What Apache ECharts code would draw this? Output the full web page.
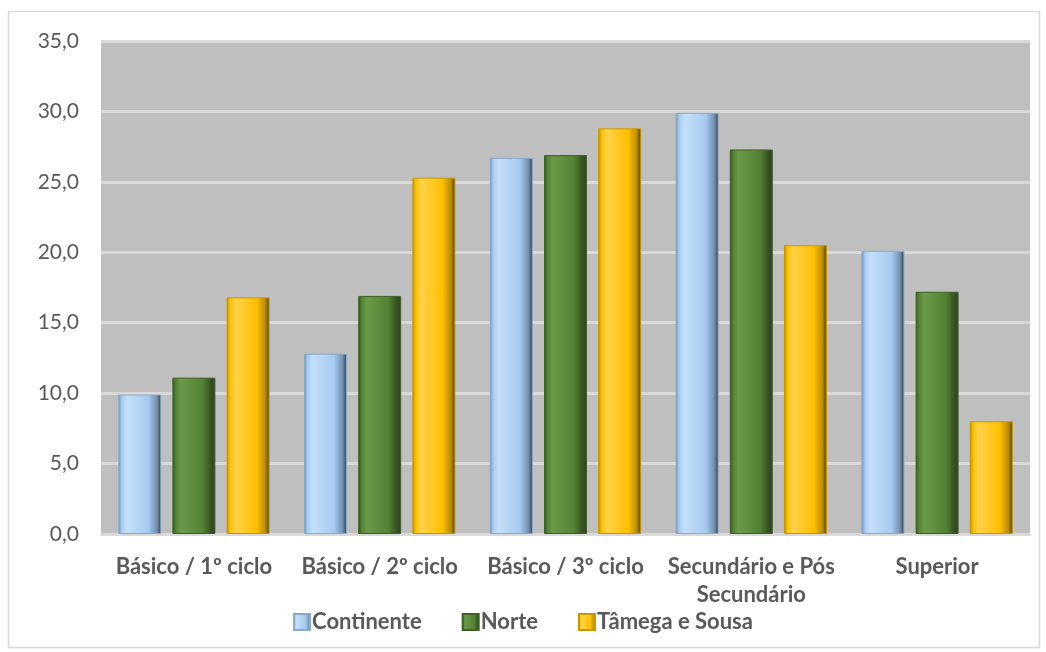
<!DOCTYPE html>
<html>
<head>
<meta charset="utf-8">
<script src="https://cdn.jsdelivr.net/npm/echarts@6/dist/echarts.min.js"></script>
<style>
  html, body { margin: 0; padding: 0; background: #fff; }
  #container { width: 1046px; height: 652px; }
</style>
</head>
<body>
<div id="container"></div>
<script>
var categories = ['Básico / 1º ciclo', 'Básico / 2º ciclo', 'Básico / 3º ciclo', 'Secundário e Pós\nSecundário', 'Superior'];
var continente = [9.9, 12.8, 26.7, 29.9, 20.1];
var norte = [11.1, 16.9, 26.9, 27.3, 17.2];
var tamega = [16.8, 25.3, 28.8, 20.5, 8.0];

function bevel(light, base, dark) {
  return new echarts.graphic.LinearGradient(0, 0, 1, 0, [
    { offset: 0, color: dark },
    { offset: 0.08, color: base },
    { offset: 0.2, color: light },
    { offset: 0.7, color: base },
    { offset: 0.9, color: dark },
    { offset: 1, color: '#3a3a3a' }
  ]);
}

var dom = document.getElementById('container');
var myChart = echarts.init(dom);

var font = 'Lato, "Open Sans", sans-serif';

var option = {
  animation: false,
  textStyle: { fontFamily: font },
  graphic: [{
    type: 'rect',
    shape: { x: 8.5, y: 11.5, width: 1031, height: 636 },
    style: { fill: 'none', stroke: '#D9D9D9', lineWidth: 1.5 },
    silent: true
  }],
  legend: {
    bottom: 14,
    left: 'center',
    itemWidth: 16,
    itemHeight: 16,
    itemGap: 40,
    icon: 'rect',
    textStyle: { fontSize: 22, fontWeight: 'bold', color: '#595959', fontFamily: font, padding: [0, 0, 0, -3] },
    data: ['Continente', 'Norte', 'Tâmega e Sousa']
  },
  grid: {
    left: 101,
    right: 16,
    top: 41,
    bottom: 118,
    show: true,
    backgroundColor: '#BFBFBF',
    borderWidth: 0
  },
  xAxis: {
    type: 'category',
    data: categories,
    axisLine: { lineStyle: { color: '#D9D9D9', width: 2 } },
    axisTick: { show: false },
    axisLabel: {
      interval: 0,
      fontSize: 22,
      fontWeight: 'bold',
      color: '#595959',
      fontFamily: font,
      margin: 19,
      lineHeight: 28
    }
  },
  yAxis: {
    type: 'value',
    min: 0,
    max: 35,
    interval: 5,
    axisLine: { show: false },
    axisTick: { show: false },
    splitLine: { lineStyle: { color: '#D9D9D9', width: 3 } },
    axisLabel: {
      fontSize: 21,
      color: '#595959',
      fontFamily: font,
      margin: 22,
      formatter: function (v) { return v.toFixed(1).replace('.', ','); }
    }
  },
  series: [
    {
      name: 'Continente',
      type: 'bar',
      barWidth: 43,
      barGap: '26%',
      data: continente,
      itemStyle: {
        color: bevel('#C4E0FA', '#A6CAF0', '#6F8FAF'),
        borderColor: '#8AA9C8',
        borderWidth: 1
      }
    },
    {
      name: 'Norte',
      type: 'bar',
      barWidth: 43,
      barGap: '26%',
      data: norte,
      itemStyle: {
        color: bevel('#6A9A48', '#548235', '#34521F'),
        borderColor: '#3E6125',
        borderWidth: 1
      }
    },
    {
      name: 'Tâmega e Sousa',
      type: 'bar',
      barWidth: 43,
      barGap: '26%',
      data: tamega,
      itemStyle: {
        color: bevel('#FFD24A', '#FFC000', '#B88A00'),
        borderColor: '#C89800',
        borderWidth: 1
      }
    }
  ]
};

myChart.setOption(option);
window.onresize = function () {
  myChart.resize();
};
</script>
</body>
</html>
